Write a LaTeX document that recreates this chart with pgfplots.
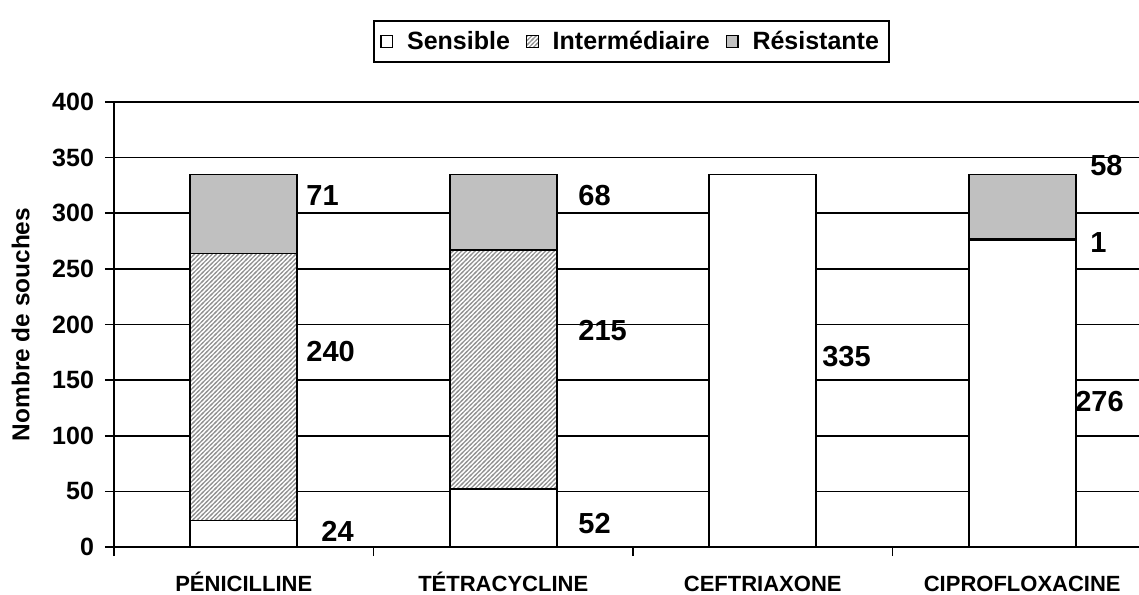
\documentclass[border=0pt]{standalone}
\usepackage{pgfplots}
\pgfplotsset{compat=1.18}
\usepackage{fontspec}
\setmainfont{Liberation Sans}
\usetikzlibrary{patterns}
\definecolor{resgray}{RGB}{192,192,192}
\pgfdeclarepatternformonly{hatchfine}{\pgfqpoint{-1pt}{-1pt}}{\pgfqpoint{3.2pt}{3.2pt}}{\pgfqpoint{2.2pt}{2.2pt}}{%
  \pgfsetlinewidth{0.6pt}%
  \pgfpathmoveto{\pgfqpoint{-0.5pt}{-0.5pt}}%
  \pgfpathlineto{\pgfqpoint{2.7pt}{2.7pt}}%
  \pgfusepath{stroke}}
\begin{document}
\begin{tikzpicture}
\begin{axis}[
  name=ax,
  scale only axis,
  width=512.5pt, height=222.5pt,
  xmin=-0.5, xmax=3.45,
  ymin=0, ymax=400,
  ytick={0,50,...,400},
  ymajorgrids,
  grid style={black, line width=0.8pt},
  axis x line=bottom, axis y line=left,
  axis line style={-, line width=0.8pt},
  tick style={black, line width=0.8pt},
  tick align=outside,
  major tick length=4.5pt,
  xtick={-0.5,0.5,1.5,2.5},
  xticklabels={},
  extra x ticks={0,1,2,3},
  extra x tick labels={PÉNICILLINE,TÉTRACYCLINE,CEFTRIAXONE,CIPROFLOXACINE},
  extra x tick style={major tick length=0pt},
  /pgf/number format/assume math mode=true,
  yticklabel style={font=\bfseries\fontsize{12.5}{14}\selectfont, xshift=-2pt},
  xticklabel style={font=\bfseries\fontsize{11}{13}\selectfont, text height=8pt, text depth=0pt, yshift=-10.5pt},
  ylabel={Nombre de souches},
  ylabel style={font=\bfseries\fontsize{12.2}{14}\selectfont, yshift=4.5pt},
  ybar stacked,
  bar width=53.5pt,
  clip=false,
  legend style={at={(0.505,1.184)}, anchor=north, legend columns=-1,
     draw=black, line width=0.8pt, inner sep=3pt,
     font=\bfseries\fontsize{12.5}{14}\selectfont,
     /tikz/every odd column/.append style={column sep=5pt},
     /tikz/every even column/.append style={column sep=6pt}},
  legend image code/.code={\draw[#1, line width=0.6pt] (0pt,-2.9pt) rectangle (5.8pt,2.9pt);},
]
\addplot[fill=white, draw=black, line width=0.8pt] coordinates {(0,24) (1,52) (2,335) (3,276)};
\addplot[fill=white, draw=black, line width=0.8pt, postaction={pattern=hatchfine, pattern color=gray!85}]
  coordinates {(0,240) (1,215) (2,0) (3,1)};
\addplot[fill=resgray, draw=black, line width=0.8pt] coordinates {(0,71) (1,68) (2,0) (3,58)};
\legend{Sensible,Intermédiaire,Résistante}
\node[anchor=west, inner sep=0pt, font=\bfseries\fontsize{14.5}{16}\selectfont] at (axis cs:0.240,315.5) {71};
\node[anchor=west, inner sep=0pt, font=\bfseries\fontsize{14.5}{16}\selectfont] at (axis cs:0.240,175.3) {240};
\node[anchor=west, inner sep=0pt, font=\bfseries\fontsize{14.5}{16}\selectfont] at (axis cs:0.298,14.4) {24};
\node[anchor=west, inner sep=0pt, font=\bfseries\fontsize{14.5}{16}\selectfont] at (axis cs:1.288,315.5) {68};
\node[anchor=west, inner sep=0pt, font=\bfseries\fontsize{14.5}{16}\selectfont] at (axis cs:1.288,195) {215};
\node[anchor=west, inner sep=0pt, font=\bfseries\fontsize{14.5}{16}\selectfont] at (axis cs:1.288,20.7) {52};
\node[anchor=west, inner sep=0pt, font=\bfseries\fontsize{14.5}{16}\selectfont] at (axis cs:2.228,170.8) {335};
\node[anchor=west, inner sep=0pt, font=\bfseries\fontsize{14.5}{16}\selectfont] at (axis cs:3.261,342.5) {58};
\node[anchor=west, inner sep=0pt, font=\bfseries\fontsize{14.5}{16}\selectfont] at (axis cs:3.261,274) {1};
\node[anchor=west, inner sep=0pt, font=\bfseries\fontsize{14.5}{16}\selectfont] at (axis cs:3.203,131) {276};
\end{axis}
\pgfresetboundingbox
\path[use as bounding box] ([xshift=-57pt,yshift=-23.5pt]ax.south west) rectangle ++(569.5pt,297pt);
\end{tikzpicture}
\end{document}
